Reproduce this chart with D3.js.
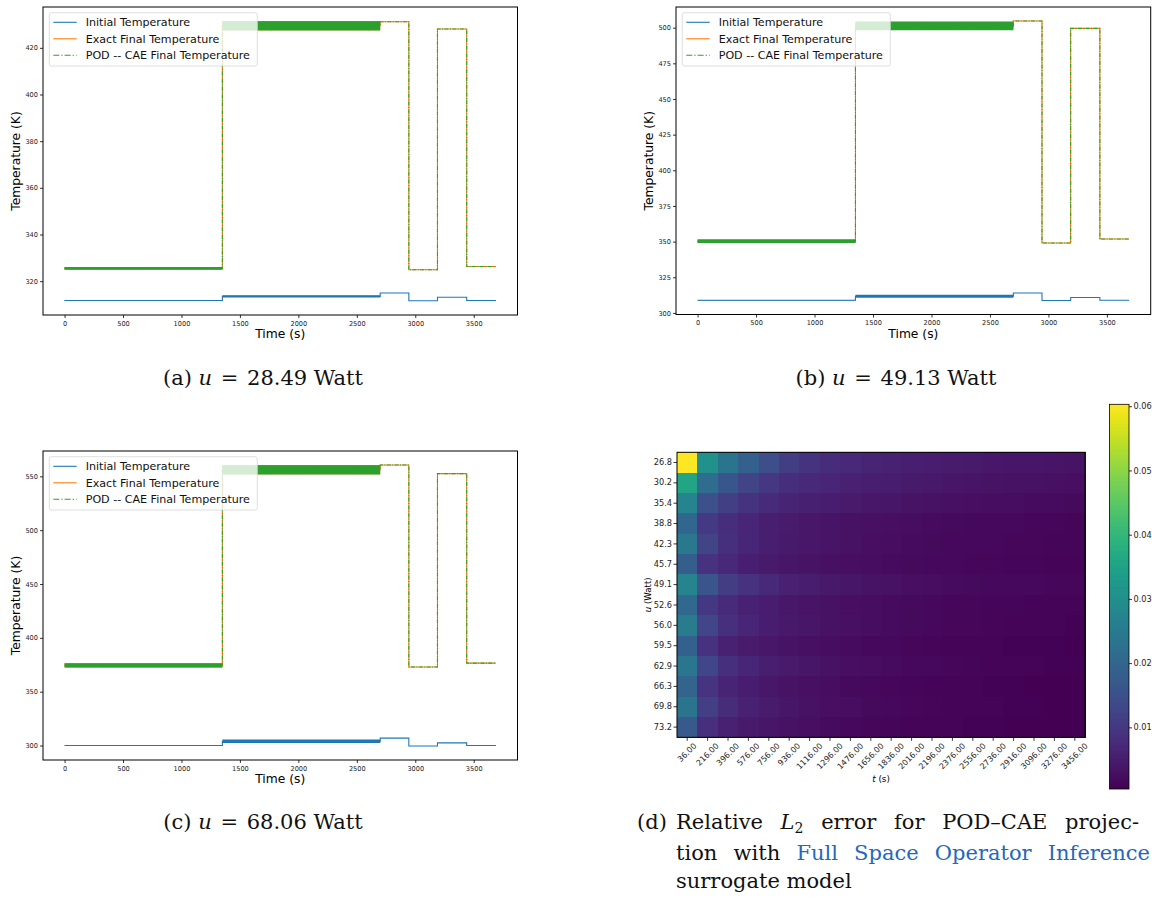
<!DOCTYPE html>
<html>
<head>
<meta charset="utf-8">
<script src="https://cdn.jsdelivr.net/npm/d3@7"></script>
<style>
  body { margin: 0; background: #fff; }
  svg { display: block; }
</style>
</head>
<body>
<svg id="fig" width="1152" height="901"></svg>
<script>
// ---------- data ----------
// Breakpoints (s) of the piecewise heat-load schedule, shared by the three runs
const stepTimes = [0, 1350, 2700, 2945, 3190, 3440, 3690];
const timeTicks = [0, 500, 1000, 1500, 2000, 2500, 3000, 3500];

// u = 28.49 W : level per schedule segment and half-width of the oscillation band
const initialA = [311.7, 313.5, 314.9, 311.6, 313.1, 311.7];
const initialSpreadA = [0.2, 0.5, 0, 0, 0, 0];
const exactA = [325.5, 429.5, 431.2, 324.9, 428.1, 326.3];
const exactSpreadA = [0.6, 2.0, 0, 0, 0, 0];
const podA = [325.5, 429.4, 431.2, 324.9, 428.1, 326.3];
const podSpreadA = [0.6, 2.0, 0, 0, 0, 0];
const tempTicksA = [320, 340, 360, 380, 400, 420];

// u = 49.13 W
const initialB = [308.9, 311.7, 314.0, 308.7, 310.8, 308.9];
const initialSpreadB = [0.2, 1.1, 0, 0, 0, 0];
const exactB = [350.3, 501.3, 504.7, 349.0, 499.5, 351.8];
const exactSpreadB = [1.3, 3.0, 0, 0, 0, 0];
const podB = [350.2, 501.2, 504.7, 349.0, 499.5, 351.8];
const podSpreadB = [1.2, 3.0, 0, 0, 0, 0];
const tempTicksB = [300, 325, 350, 375, 400, 425, 450, 475, 500];

// u = 68.06 W
const initialC = [300.0, 303.9, 306.9, 299.6, 302.5, 300.0];
const initialSpreadC = [0.2, 1.6, 0, 0, 0, 0];
const exactC = [374.5, 556.2, 560.5, 372.9, 552.5, 376.5];
const exactSpreadC = [2.0, 4.3, 0, 0, 0, 0];
const podC = [374.4, 556.1, 560.5, 372.9, 552.5, 376.5];
const podSpreadC = [1.9, 4.3, 0, 0, 0, 0];
const tempTicksC = [300, 350, 400, 450, 500, 550];

const seriesNames = ["Initial Temperature", "Exact Final Temperature", "POD -- CAE Final Temperature"];

// Relative L2 error of the POD-CAE projection: rows = u (Watt), columns = t (s)
const uLabels = ["26.8", "30.2", "35.4", "38.8", "42.3", "45.7", "49.1", "52.6", "56.0", "59.5", "62.9", "66.3", "69.8", "73.2"];
const tLabels = ["36.00", "216.00", "396.00", "576.00", "756.00", "936.00", "1116.00", "1296.00", "1476.00", "1656.00",
                 "1836.00", "2016.00", "2196.00", "2376.00", "2556.00", "2736.00", "2916.00", "3096.00", "3276.00", "3456.00"];
const errorRows = [
  [0.0603, 0.0305, 0.0235, 0.0185, 0.0145, 0.0110, 0.0092, 0.0078, 0.0070, 0.0063, 0.0058, 0.0054, 0.0050, 0.0047, 0.0044, 0.0041, 0.0039, 0.0037, 0.0035, 0.0033],
  [0.0355, 0.0215, 0.0165, 0.0125, 0.0098, 0.0082, 0.0073, 0.0066, 0.0060, 0.0054, 0.0049, 0.0045, 0.0042, 0.0039, 0.0036, 0.0034, 0.0032, 0.0030, 0.0028, 0.0027],
  [0.0275, 0.0150, 0.0115, 0.0092, 0.0076, 0.0064, 0.0056, 0.0050, 0.0045, 0.0041, 0.0037, 0.0034, 0.0031, 0.0029, 0.0027, 0.0025, 0.0023, 0.0022, 0.0021, 0.0020],
  [0.0200, 0.0105, 0.0082, 0.0066, 0.0055, 0.0047, 0.0041, 0.0036, 0.0032, 0.0029, 0.0026, 0.0024, 0.0022, 0.0020, 0.0018, 0.0017, 0.0016, 0.0015, 0.0014, 0.0013],
  [0.0245, 0.0125, 0.0088, 0.0068, 0.0055, 0.0046, 0.0040, 0.0035, 0.0031, 0.0027, 0.0024, 0.0022, 0.0020, 0.0018, 0.0017, 0.0016, 0.0015, 0.0014, 0.0013, 0.0012],
  [0.0180, 0.0090, 0.0070, 0.0055, 0.0045, 0.0038, 0.0033, 0.0029, 0.0026, 0.0023, 0.0021, 0.0019, 0.0017, 0.0016, 0.0015, 0.0014, 0.0013, 0.0012, 0.0011, 0.0010],
  [0.0275, 0.0160, 0.0110, 0.0090, 0.0072, 0.0058, 0.0050, 0.0043, 0.0038, 0.0034, 0.0030, 0.0027, 0.0024, 0.0022, 0.0020, 0.0018, 0.0017, 0.0016, 0.0015, 0.0014],
  [0.0205, 0.0100, 0.0076, 0.0060, 0.0049, 0.0041, 0.0035, 0.0031, 0.0027, 0.0024, 0.0021, 0.0019, 0.0017, 0.0015, 0.0014, 0.0013, 0.0012, 0.0011, 0.0010, 0.0009],
  [0.0250, 0.0130, 0.0088, 0.0065, 0.0052, 0.0043, 0.0037, 0.0032, 0.0028, 0.0025, 0.0022, 0.0019, 0.0017, 0.0015, 0.0014, 0.0012, 0.0011, 0.0010, 0.0009, 0.0008],
  [0.0185, 0.0090, 0.0060, 0.0048, 0.0040, 0.0033, 0.0028, 0.0024, 0.0021, 0.0018, 0.0016, 0.0014, 0.0012, 0.0011, 0.0010, 0.0009, 0.0008, 0.0007, 0.0007, 0.0006],
  [0.0240, 0.0130, 0.0088, 0.0068, 0.0054, 0.0044, 0.0037, 0.0032, 0.0027, 0.0024, 0.0021, 0.0018, 0.0016, 0.0014, 0.0012, 0.0011, 0.0010, 0.0009, 0.0008, 0.0007],
  [0.0195, 0.0095, 0.0063, 0.0050, 0.0041, 0.0034, 0.0028, 0.0024, 0.0020, 0.0017, 0.0015, 0.0013, 0.0011, 0.0010, 0.0009, 0.0008, 0.0007, 0.0006, 0.0006, 0.0005],
  [0.0235, 0.0115, 0.0078, 0.0060, 0.0048, 0.0038, 0.0032, 0.0027, 0.0023, 0.0020, 0.0017, 0.0015, 0.0013, 0.0011, 0.0010, 0.0009, 0.0008, 0.0007, 0.0006, 0.0006],
  [0.0170, 0.0085, 0.0058, 0.0046, 0.0038, 0.0031, 0.0026, 0.0021, 0.0018, 0.0015, 0.0013, 0.0011, 0.0010, 0.0009, 0.0008, 0.0007, 0.0006, 0.0005, 0.0005, 0.0004]
];
const colorbarTicks = [0.01, 0.02, 0.03, 0.04, 0.05, 0.06];

// ---------- drawing ----------
const svg = d3.select("#fig");
const SANS = "'DejaVu Sans', sans-serif";
const SERIF = "'DejaVu Serif', serif";
const COLORS = ["#1f77b4", "#ff7f0e", "#2ca02c"];

function styleAxis(g, size) {
  g.select(".domain").remove();
  g.selectAll(".tick line").attr("stroke", "#000").attr("stroke-width", 0.8);
  g.selectAll(".tick text").attr("fill", "#222").style("font-family", SANS).style("font-size", size + "px");
}

function tempPanel(p, id) {
  const b = p.box;
  const g = svg.append("g");
  const tPad = 0.05 * (d3.max(stepTimes) - d3.min(stepTimes));
  const x = d3.scaleLinear()
    .domain([d3.min(stepTimes) - tPad, d3.max(stepTimes) + tPad])
    .range([b.left, b.right]);

  const lows = [], highs = [];
  p.series.forEach(s => s.levels.forEach((v, i) => { lows.push(v - s.spread[i]); highs.push(v + s.spread[i]); }));
  const lo = d3.min(lows), hi = d3.max(highs), yPad = 0.05 * (hi - lo);
  const y = d3.scaleLinear().domain([lo - yPad, hi + yPad]).range([b.bottom, b.top]);

  g.append("clipPath").attr("id", id)
    .append("rect").attr("x", b.left).attr("y", b.top)
    .attr("width", b.right - b.left).attr("height", b.bottom - b.top);
  const plot = g.append("g").attr("clip-path", `url(#${id})`);

  const stepLine = d3.line().x(d => x(d[0])).y(d => y(d[1])).curve(d3.curveStepAfter);
  const band = d3.area().x(d => x(d));

  p.series.forEach(s => {
    const pts = s.levels.map((v, i) => [stepTimes[i], v]);
    pts.push([stepTimes[stepTimes.length - 1], s.levels[s.levels.length - 1]]);
    s.levels.forEach((v, i) => {
      if (s.spread[i] > 0) {
        plot.append("path")
          .attr("d", band.y0(y(v - s.spread[i])).y1(y(v + s.spread[i]))([stepTimes[i], stepTimes[i + 1]]))
          .attr("fill", s.color);
      }
    });
    plot.append("path")
      .attr("d", stepLine(pts))
      .attr("fill", "none")
      .attr("stroke", s.color)
      .attr("stroke-width", 1.1)
      .attr("stroke-dasharray", s.dash || null);
  });

  // axes
  const ax = g.append("g").attr("transform", `translate(0,${b.bottom})`)
    .call(d3.axisBottom(x).tickValues(timeTicks).tickSize(3).tickPadding(3).tickFormat(d3.format("d")));
  styleAxis(ax, 6.6);
  const ay = g.append("g").attr("transform", `translate(${b.left},0)`)
    .call(d3.axisLeft(y).tickValues(p.yTicks).tickSize(3).tickPadding(2).tickFormat(d3.format("d")));
  styleAxis(ay, 6.6);

  g.append("rect").attr("x", b.left).attr("y", b.top)
    .attr("width", b.right - b.left).attr("height", b.bottom - b.top)
    .attr("fill", "none").attr("stroke", "#000").attr("stroke-width", 1);

  g.append("text").attr("x", (b.left + b.right) / 2).attr("y", b.bottom + 23)
    .attr("text-anchor", "middle").style("font-family", SANS).style("font-size", "12.3px")
    .text("Time (s)");
  g.append("text")
    .attr("transform", `translate(${b.left - 23},${(b.top + b.bottom) / 2}) rotate(-90)`)
    .attr("text-anchor", "middle").style("font-family", SANS).style("font-size", "12.3px")
    .text("Temperature (K)");

  // legend
  const lx = b.left + 6.3, ly = b.top + 5.7;
  const lg = g.append("g");
  lg.append("rect").attr("x", lx).attr("y", ly).attr("width", 208).attr("height", 53.3)
    .attr("rx", 2).attr("fill", "#fff").attr("fill-opacity", 0.8)
    .attr("stroke", "#d6d6d6").attr("stroke-width", 0.8);
  p.series.forEach((s, i) => {
    const ry = ly + 9.6 + i * 16.5;
    lg.append("line").attr("x1", lx + 4).attr("x2", lx + 27.4).attr("y1", ry).attr("y2", ry)
      .attr("stroke", s.color).attr("stroke-width", 1.1)
      .attr("stroke-dasharray", s.dash ? "6,2,1.3,2" : null);
    lg.append("text").attr("x", lx + 36.4).attr("y", ry).attr("dy", "0.35em")
      .style("font-family", SANS).style("font-size", "11.1px").attr("fill", "#111")
      .text(s.name);
  });
}

function makeSeries(init, initS, exact, exactS, pod, podS) {
  return [
    { name: seriesNames[0], levels: init, spread: initS, color: COLORS[0] },
    { name: seriesNames[1], levels: exact, spread: exactS, color: COLORS[1] },
    { name: seriesNames[2], levels: pod, spread: podS, color: COLORS[2], dash: "4,1.4,1,1.4" }
  ];
}

tempPanel({ box: { left: 43, right: 517.5, top: 7, bottom: 315 }, yTicks: tempTicksA,
  series: makeSeries(initialA, initialSpreadA, exactA, exactSpreadA, podA, podSpreadA) }, "clipA");
tempPanel({ box: { left: 676, right: 1150.7, top: 7, bottom: 314.5 }, yTicks: tempTicksB,
  series: makeSeries(initialB, initialSpreadB, exactB, exactSpreadB, podB, podSpreadB) }, "clipB");
tempPanel({ box: { left: 43, right: 517.5, top: 451, bottom: 760 }, yTicks: tempTicksC,
  series: makeSeries(initialC, initialSpreadC, exactC, exactSpreadC, podC, podSpreadC) }, "clipC");

// ---------- heat map of the relative L2 error ----------
(function heatmap() {
  const box = { left: 677, right: 1085, top: 452.3, bottom: 737.3 };
  const g = svg.append("g");
  const x = d3.scaleBand().domain(tLabels).range([box.left, box.right]);
  const y = d3.scaleBand().domain(uLabels).range([box.top, box.bottom]);
  const extent = d3.extent(errorRows.flat());
  const color = d3.scaleSequential(d3.interpolateViridis).domain(extent);

  const cells = g.append("g").attr("shape-rendering", "crispEdges");
  errorRows.forEach((row, r) => {
    row.forEach((v, c) => {
      cells.append("rect")
        .attr("x", x(tLabels[c])).attr("y", y(uLabels[r]))
        .attr("width", x.bandwidth() + 1).attr("height", y.bandwidth() + 1)
        .attr("fill", color(v));
    });
  });
  g.append("rect").attr("x", box.left).attr("y", box.top)
    .attr("width", box.right - box.left).attr("height", box.bottom - box.top)
    .attr("fill", "none").attr("stroke", "#000").attr("stroke-width", 1);

  const ay = g.append("g").attr("transform", `translate(${box.left},0)`)
    .call(d3.axisLeft(y).tickSize(3.5).tickPadding(1.5));
  styleAxis(ay, 8.2);

  const ax = g.append("g").attr("transform", `translate(0,${box.bottom})`)
    .call(d3.axisBottom(x).tickSize(3.5).tickFormat(""));
  styleAxis(ax, 8);
  // rotated tick labels, each centred under its column
  tLabels.forEach(lbl => {
    const cx = x(lbl) + x.bandwidth() / 2;
    const t = g.append("text").style("font-family", SANS).style("font-size", "8px")
      .attr("fill", "#222").attr("text-anchor", "middle").attr("dominant-baseline", "central").text(lbl);
    const w = t.node().getComputedTextLength();
    const cy = box.bottom + 4.5 + (w + 8) / (2 * Math.SQRT2);
    t.attr("x", cx).attr("y", cy).attr("transform", `rotate(-45,${cx},${cy})`);
  });

  const yl = g.append("text")
    .attr("transform", `translate(${651},${(box.top + box.bottom) / 2}) rotate(-90)`)
    .attr("text-anchor", "middle").style("font-family", SANS).style("font-size", "8.6px");
  yl.append("tspan").style("font-style", "italic").text("u");
  yl.append("tspan").text(" (Watt)");

  const xl = g.append("text").attr("x", (box.left + box.right) / 2).attr("y", 782)
    .attr("text-anchor", "middle").style("font-family", SANS).style("font-size", "8.8px");
  xl.append("tspan").style("font-style", "italic").text("t");
  xl.append("tspan").text(" (s)");

  // colour bar
  const cb = { left: 1109.5, right: 1129, top: 404.3, bottom: 789 };
  const cy = d3.scaleLinear().domain(extent).range([cb.bottom, cb.top]);
  const grad = svg.append("defs").append("linearGradient").attr("id", "viridisBar")
    .attr("x1", 0).attr("y1", 1).attr("x2", 0).attr("y2", 0);
  d3.range(0, 1.0001, 0.05).forEach(f => {
    grad.append("stop").attr("offset", f).attr("stop-color", d3.interpolateViridis(f));
  });
  g.append("rect").attr("x", cb.left).attr("y", cb.top)
    .attr("width", cb.right - cb.left).attr("height", cb.bottom - cb.top)
    .attr("fill", "url(#viridisBar)").attr("stroke", "#000").attr("stroke-width", 0.8);
  const ac = g.append("g").attr("transform", `translate(${cb.right},0)`)
    .call(d3.axisRight(cy).tickValues(colorbarTicks).tickSize(3).tickPadding(1.5).tickFormat(d3.format(".2f")));
  styleAxis(ac, 8.2);
})();

// ---------- sub-figure captions ----------
function caption(cx, yb, tag, value) {
  const t = svg.append("text").attr("x", cx).attr("y", yb).attr("text-anchor", "middle")
    .style("font-family", SERIF).style("font-size", "21px").attr("fill", "#111");
  t.append("tspan").text(tag + " ");
  t.append("tspan").style("font-style", "italic").text("u");
  t.append("tspan").attr("dx", 2).text(" =");
  t.append("tspan").attr("dx", 2).text(" " + value + " Watt");
}
caption(263, 385, "(a)", "28.49");
caption(896, 385, "(b)", "49.13");
caption(263, 829, "(c)", "68.06");

(function captionD() {
  const indent = 676, margin = 1150;
  const size = 21;
  const mk = (yb) => svg.append("text").attr("x", indent).attr("y", yb).attr("fill", "#111")
    .style("font-family", SERIF).style("font-size", size + "px");
  svg.append("text").attr("x", 637).attr("y", 829).attr("fill", "#111")
    .style("font-family", SERIF).style("font-size", size + "px").text("(d)");

  const l1 = mk(829);
  l1.append("tspan").text("Relative ");
  l1.append("tspan").style("font-style", "italic").text("L");
  l1.append("tspan").attr("dy", 4).style("font-size", "14px").text("2");
  l1.append("tspan").attr("dy", -4).text(" error for POD\u2013CAE projec-");

  const l2 = mk(860);
  l2.append("tspan").text("tion with ");
  l2.append("tspan").attr("fill", "#2467bd").text("Full Space Operator Inference");

  const l3 = mk(888);
  l3.text("surrogate model");

  // justify the first two lines to the text-block width
  [[l1, 6], [l2, 5]].forEach(([t, gaps]) => {
    const w = t.node().getComputedTextLength();
    t.style("word-spacing", Math.max(0, (margin - indent - w) / gaps) + "px");
  });
})();
</script>
</body>
</html>
